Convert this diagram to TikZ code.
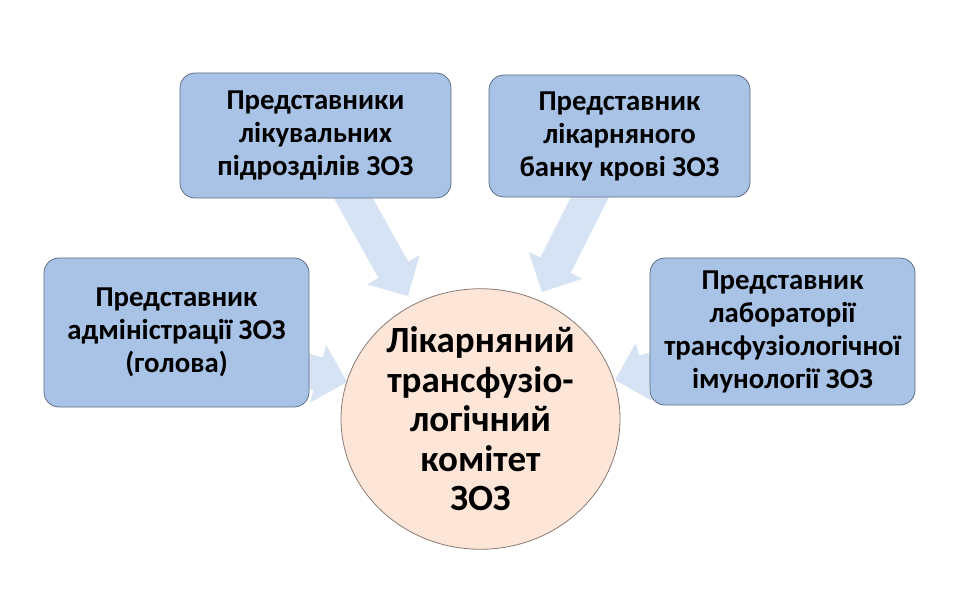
\documentclass[tikz,border=0pt]{standalone}
\usepackage{fontspec}
\setmainfont{Carlito}
\usetikzlibrary{shapes.geometric}
\definecolor{boxfill}{HTML}{A9C3E6}
\definecolor{boxline}{HTML}{5F6F86}
\definecolor{arrowfill}{HTML}{D6E3F5}
\definecolor{circfill}{HTML}{FDE5D7}
\definecolor{circline}{HTML}{8A7A74}
\tikzset{
  membox/.style={draw=boxline, line width=0.8bp, fill=boxfill, rounded corners=15bp,
    align=center, font=\bfseries\fontsize{28.8bp}{33bp}\selectfont, inner sep=0pt},
  committee/.style={ellipse, draw=circline, line width=0.8bp, fill=circfill,
    align=center, font=\bfseries\fontsize{37bp}{39.5bp}\selectfont, inner sep=0pt,
    minimum width=279bp, minimum height=258bp},
  blockarrow/.style={fill=arrowfill}
}
\newcommand\blkarrow[3]{%
  \fill[blockarrow, shift={(#1)}, rotate=#2]
    (0,0) -- (-30,30) -- (-30,17) -- (-#3,17) -- (-#3,-17) -- (-30,-17) -- (-30,-30) -- cycle;}
\begin{document}
\begin{tikzpicture}[x=1bp,y=-1bp]
\useasboundingbox[fill=white] (0,0) rectangle (960,610);
% arrow tips
\coordinate (tipA) at (408,296);
\coordinate (tipB) at (542,292);
\coordinate (tipC) at (347,382);
\coordinate (tipD) at (615,380);
\blkarrow{tipA}{-60.8}{130}
\blkarrow{tipB}{-116.8}{130}
\blkarrow{tipC}{-15.7}{90}
\blkarrow{tipD}{-164.3}{90}
% boxes
\node[membox, minimum width=271bp, minimum height=125bp] (units) at (315.5,135.5)
  {Представники\\лікувальних\\підрозділів ЗОЗ};
\node[membox, minimum width=261bp, minimum height=122bp] (bank) at (619.5,136)
  {Представник\\лікарняного\\банку крові ЗОЗ};
\node[membox, minimum width=265bp, minimum height=149bp] (admin) at (176.5,332.5)
  {Представник\\адміністрації ЗОЗ\\(голова)};
\node[membox, minimum width=265bp, minimum height=147bp] (lab) at (782.5,331.5)
  {Представник\\лабораторії\\трансфузіологічної\\імунології ЗОЗ};
\node[committee] (comm) at (480.5,419)
  {Лікарняний\\трансфузіо-\\логічний\\комітет\\ЗОЗ};
\end{tikzpicture}
\end{document}
